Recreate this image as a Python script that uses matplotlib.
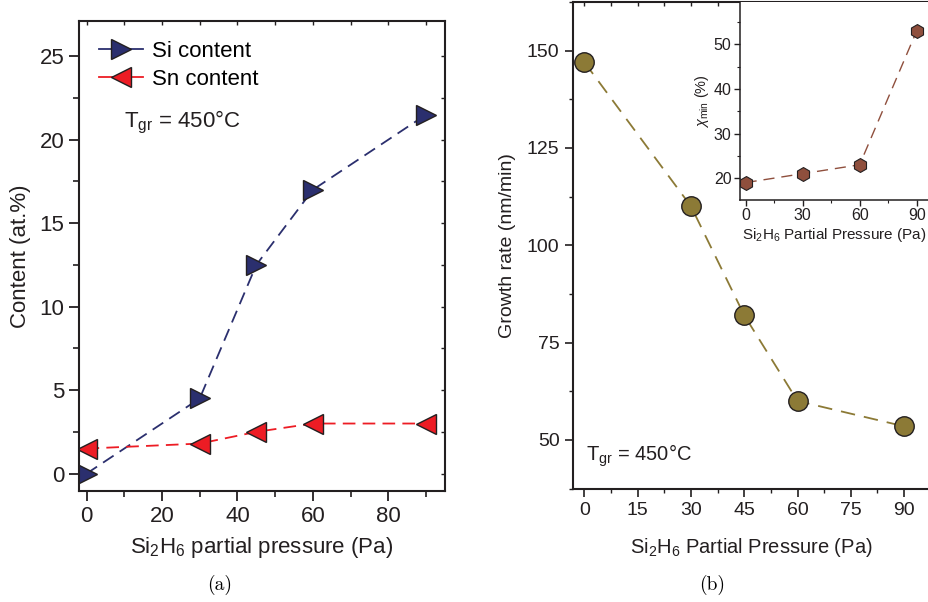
import numpy as np
import matplotlib.pyplot as plt
from matplotlib.lines import Line2D
from matplotlib.ticker import MultipleLocator

plt.rcParams['font.family'] = ['Liberation Sans', 'DejaVu Sans']
plt.rcParams['mathtext.fontset'] = 'custom'
plt.rcParams['mathtext.rm'] = 'Liberation Sans'
plt.rcParams['mathtext.it'] = 'Liberation Sans:italic'
plt.rcParams['axes.edgecolor'] = '#231f20'
plt.rcParams['axes.linewidth'] = 1.5

# (a) composition
p_a = [0, 30, 45, 60, 90]
si_content = [0, 4.5, 12.5, 17, 21.5]
sn_content = [1.5, 1.8, 2.5, 3.0, 3.0]

# (b) growth rate
p_b = [0, 30, 45, 60, 90]
growth_rate = [147, 110, 82, 60, 53.5]

# inset chi_min
p_in = [0, 30, 60, 90]
chi_min = [19, 21, 23, 53]

navy = '#2b2f6e'
red = '#ed1c24'
olive = '#8c7a36'
brown = '#8f4f3d'
dk = '#231f20'

fig = plt.figure(figsize=(9.29, 6.02), dpi=100)

# ---- panel (a)
ax1 = fig.add_axes([0.085, 0.1844, 0.394, 0.7806])
ax1.plot(p_a, si_content, color=navy, lw=1.3, dashes=[7, 4], marker='>', ms=15,
         mfc=navy, mec=dk, mew=1.0)
ax1.plot(p_a, sn_content, color=red, lw=1.3, dashes=[7, 4], marker='<', ms=15,
         mfc=red, mec=dk, mew=1.0)
ax1.set_xlim(-2, 95)
ax1.set_ylim(-1.04, 27.1)
ax1.xaxis.set_major_locator(MultipleLocator(20))
ax1.xaxis.set_minor_locator(MultipleLocator(10))
ax1.yaxis.set_major_locator(MultipleLocator(5))
ax1.yaxis.set_minor_locator(MultipleLocator(2.5))
ax1.tick_params(which='both', direction='out', labelsize=16, colors=dk, top=False, right=False)
ax1.tick_params(which='major', length=7, width=1.3)
ax1.tick_params(which='minor', length=4, width=1.2)
sec_x = ax1.secondary_xaxis('top')
sec_x.xaxis.set_major_locator(MultipleLocator(20))
sec_x.xaxis.set_minor_locator(MultipleLocator(10))
sec_x.tick_params(which='both', direction='in', labeltop=False, length=3, width=1.0, colors=dk)
sec_y = ax1.secondary_yaxis('right')
sec_y.yaxis.set_major_locator(MultipleLocator(5))
sec_y.yaxis.set_minor_locator(MultipleLocator(2.5))
sec_y.tick_params(which='both', direction='in', labelright=False, length=3, width=1.0, colors=dk)
for s in sec_x.spines.values():
    s.set_visible(False)
for s in sec_y.spines.values():
    s.set_visible(False)
ax1.set_xlabel(r'Si$_2$H$_6$ partial pressure (Pa)', fontsize=16, color=dk, labelpad=6)
ax1.set_ylabel('Content (at.%)', fontsize=16, color=dk, labelpad=6)
ax1.text(10, 21, r'T$_{\rm gr}$ = 450°C', fontsize=16, color=dk, ha='left', va='center')
handles = [
    Line2D([], [], color=navy, lw=1.3, marker='>', ms=15, mfc=navy, mec=dk, mew=1.0),
    Line2D([], [], color=red, lw=1.3, marker='<', ms=15, mfc=red, mec=dk, mew=1.0),
]
ax1.legend(handles, ['Si content', 'Sn content'], loc='upper left', frameon=False,
           fontsize=16, handlelength=2.0, handletextpad=0.4, borderaxespad=0.5,
           labelspacing=0.3, bbox_to_anchor=(0.0, 1.0))

# ---- panel (b)
ax2 = fig.add_axes([0.6165, 0.1877, 0.3835, 0.809])
ax2.plot(p_b, growth_rate, color=olive, lw=1.3, dashes=[8, 5], marker='o', ms=14,
         mfc=olive, mec=dk, mew=1.0)
ax2.set_xlim(-3.3, 97)
ax2.set_ylim(37.4, 162.5)
ax2.xaxis.set_major_locator(MultipleLocator(15))
ax2.xaxis.set_minor_locator(MultipleLocator(7.5))
ax2.yaxis.set_major_locator(MultipleLocator(25))
ax2.yaxis.set_minor_locator(MultipleLocator(12.5))
ax2.tick_params(which='both', direction='out', labelsize=14, colors=dk, top=False, right=False)
ax2.tick_params(which='major', length=6, width=1.2)
ax2.tick_params(which='minor', length=3, width=1.0)
sec_x2 = ax2.secondary_xaxis('top')
sec_x2.xaxis.set_major_locator(MultipleLocator(15))
sec_x2.xaxis.set_minor_locator(MultipleLocator(7.5))
sec_x2.tick_params(which='both', direction='in', labeltop=False, length=3, width=1.0, colors=dk)
for s in sec_x2.spines.values():
    s.set_visible(False)
ax2.spines['right'].set_visible(False)
ax2.set_xlabel(r'Si$_2$H$_6$ Partial Pressure (Pa)', fontsize=14.5, color=dk, labelpad=12)
ax2.set_ylabel('Growth rate (nm/min)', fontsize=14, color=dk, labelpad=8)
ax2.text(0.5, 46, r'T$_{\rm gr}$ = 450°C', fontsize=14.5, color=dk, ha='left', va='center')

# ---- inset
ax3 = fig.add_axes([0.7965, 0.6678, 0.2035, 0.3289])
ax3.plot(p_in, chi_min, color=brown, lw=1.0, dashes=[8, 5], marker='h', ms=10,
         mfc=brown, mec=dk, mew=0.8)
ax3.set_xlim(-3, 96.5)
ax3.set_ylim(15.1, 59.5)
ax3.xaxis.set_major_locator(MultipleLocator(30))
ax3.xaxis.set_minor_locator(MultipleLocator(15))
ax3.yaxis.set_major_locator(MultipleLocator(10))
ax3.yaxis.set_minor_locator(MultipleLocator(5))
ax3.tick_params(which='both', direction='out', labelsize=11.5, colors=dk, pad=2)
ax3.tick_params(which='major', length=4, width=1.0)
ax3.tick_params(which='minor', length=2.5, width=0.8)
ax3.spines['right'].set_visible(False)
ax3.spines['top'].set_visible(False)
ax3.spines['left'].set_linewidth(1.1)
ax3.spines['bottom'].set_linewidth(1.1)
ax3.set_xlabel(r'Si$_2$H$_6$ Partial Pressure (Pa)', fontsize=11, color=dk, labelpad=2)
ax3.set_ylabel(r'$\chi_{\rm min}$ (%)', fontsize=10.5, color=dk, labelpad=2)

fig.text(220 / 929, 1 - 585 / 602, '(a)', fontsize=14, family='cmr10', ha='center', va='center')
fig.text(712 / 929, 1 - 585 / 602, '(b)', fontsize=14, family='cmr10', ha='center', va='center')

fig.savefig('out.png', dpi=100)
